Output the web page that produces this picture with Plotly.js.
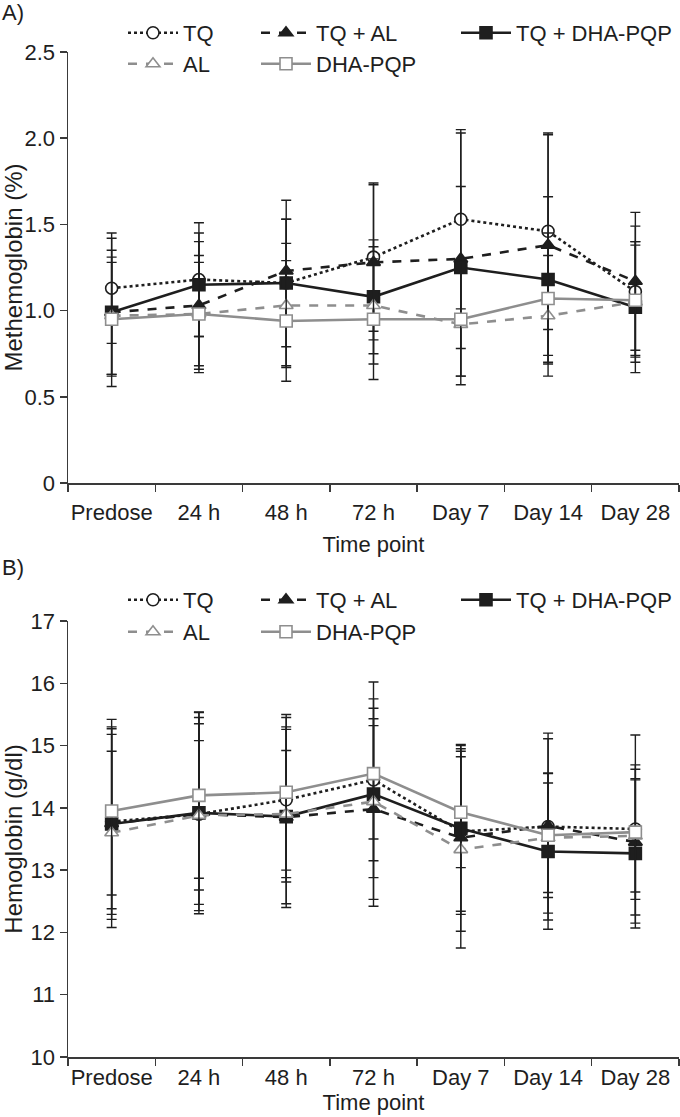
<!DOCTYPE html>
<html>
<head>
<meta charset="utf-8">
<script src="https://cdn.plot.ly/plotly-3.0.1.min.js"></script>
<style>html,body{margin:0;padding:0;background:#fff;}#chart{width:680px;height:1117px;}</style>
</head>
<body>
<div id="chart"></div>
<script>
// ---- Data ----
const categories = ['Predose', '24 h', '48 h', '72 h', 'Day 7', 'Day 14', 'Day 28'];
const seriesNames = ['TQ', 'TQ + AL', 'TQ + DHA-PQP', 'AL', 'DHA-PQP'];

// Panel A: Methemoglobin (%)
const metTQ      = [1.13, 1.18, 1.16, 1.31, 1.53, 1.46, 1.11];
const metTQAL    = [0.99, 1.03, 1.23, 1.28, 1.30, 1.38, 1.17];
const metTQDHA   = [0.99, 1.15, 1.16, 1.08, 1.25, 1.18, 1.02];
const metAL      = [0.97, 0.98, 1.03, 1.03, 0.92, 0.97, 1.05];
const metDHA     = [0.95, 0.98, 0.94, 0.95, 0.95, 1.07, 1.06];
const metTQ_sd    = [0.32, 0.33, 0.48, 0.43, 0.52, 0.57, 0.38];
const metTQAL_sd  = [0.43, 0.37, 0.30, 0.45, 0.73, 0.64, 0.40];
const metTQDHA_sd = [0.36, 0.30, 0.37, 0.33, 0.47, 0.48, 0.38];
const metAL_sd    = [0.34, 0.34, 0.36, 0.34, 0.30, 0.35, 0.35];
const metDHA_sd   = [0.33, 0.30, 0.35, 0.35, 0.33, 0.38, 0.32];
const metTickVals = [0, 0.5, 1.0, 1.5, 2.0, 2.5];
const metTickText = ['0', '0.5', '1.0', '1.5', '2.0', '2.5'];

// Panel B: Hemoglobin (g/dl)
const hbTQ      = [13.78, 13.90, 14.13, 14.45, 13.62, 13.70, 13.66];
const hbTQAL    = [13.75, 13.90, 13.85, 13.98, 13.52, 13.71, 13.45];
const hbTQDHA   = [13.74, 13.92, 13.86, 14.22, 13.67, 13.30, 13.27];
const hbAL      = [13.60, 13.88, 13.90, 14.10, 13.33, 13.52, 13.55];
const hbDHA     = [13.95, 14.20, 14.25, 14.55, 13.93, 13.56, 13.61];
const hbTQ_sd    = [1.40, 1.55, 1.32, 1.30, 1.33, 1.50, 1.51];
const hbTQAL_sd  = [1.67, 1.45, 1.45, 1.45, 1.50, 1.40, 1.17];
const hbTQDHA_sd = [1.53, 1.62, 1.40, 1.80, 1.33, 1.25, 1.20];
const hbAL_sd    = [1.31, 1.20, 1.02, 1.22, 1.58, 0.88, 0.90];
const hbDHA_sd   = [1.35, 1.33, 1.25, 1.05, 0.89, 1.00, 1.08];
const hbTickVals = [10, 11, 12, 13, 14, 15, 16, 17];

// ---- Styling ----
const FONT = 'Liberation Sans, Arial, Helvetica, sans-serif';
const BLACK = '#1e1e1e';
const GREY = '#8e8e8e';
const AX = '#3a3a3a';
const W = 680, H = 1117, ML = 68, MR = 1;
const PW = W - ML - MR;
const px2x = p => (p - ML) / PW;
const py2y = p => (H - p) / H;

const styles = [
  {dash: 'dot',   color: BLACK, symbol: 'circle',      fill: '#ffffff'},
  {dash: 'dash',  color: BLACK, symbol: 'triangle-up', fill: BLACK},
  {dash: 'solid', color: BLACK, symbol: 'square',      fill: BLACK},
  {dash: 'dash',  color: GREY,  symbol: 'triangle-up', fill: '#ffffff'},
  {dash: 'solid', color: GREY,  symbol: 'square',      fill: '#ffffff'}
];

function mk(i, y, sd, xa, ya, legendId) {
  const s = styles[i];
  return {
    type: 'scatter', mode: 'lines+markers',
    x: categories, y: y, xaxis: xa, yaxis: ya,
    name: seriesNames[i], legend: legendId,
    line: {color: s.color, width: 2.6, dash: s.dash},
    marker: {symbol: s.symbol, size: 12, color: s.fill, line: {color: s.color, width: 1.6}},
    error_y: {type: 'data', array: sd, visible: true, color: BLACK, thickness: 1.4, width: 5},
    cliponaxis: false
  };
}

// draw order: TQ, TQ+AL, TQ+DHA-PQP, AL, DHA-PQP
const traces = [
  mk(0, metTQ, metTQ_sd, 'x', 'y', 'legend'),
  mk(1, metTQAL, metTQAL_sd, 'x', 'y', 'legend2'),
  mk(2, metTQDHA, metTQDHA_sd, 'x', 'y', 'legend3'),
  mk(3, metAL, metAL_sd, 'x', 'y', 'legend4'),
  mk(4, metDHA, metDHA_sd, 'x', 'y', 'legend5'),
  mk(0, hbTQ, hbTQ_sd, 'x2', 'y2', 'legend6'),
  mk(1, hbTQAL, hbTQAL_sd, 'x2', 'y2', 'legend7'),
  mk(2, hbTQDHA, hbTQDHA_sd, 'x2', 'y2', 'legend8'),
  mk(3, hbAL, hbAL_sd, 'x2', 'y2', 'legend9'),
  mk(4, hbDHA, hbDHA_sd, 'x2', 'y2', 'legend10')
];

function leg(pxX, pxY) {
  return {
    x: px2x(pxX), y: py2y(pxY), xref: 'paper', yref: 'paper',
    xanchor: 'left', yanchor: 'middle', orientation: 'h',
    bgcolor: 'rgba(0,0,0,0)', borderwidth: 0,
    font: {family: FONT, size: 22, color: BLACK},
    itemwidth: 50, tracegroupgap: 0
  };
}

const xCommon = {
  type: 'category', range: [-0.5, 6.5], tickson: 'boundaries',
  ticks: 'outside', ticklen: 7, tickwidth: 1.5, tickcolor: AX, tickangle: 0,
  showline: true, linecolor: AX, linewidth: 1.5,
  showgrid: false, zeroline: false,
  tickfont: {family: FONT, size: 22, color: BLACK}
};
const yCommon = {
  ticks: 'outside', ticklen: 7, tickwidth: 1.5, tickcolor: AX,
  showline: true, linecolor: AX, linewidth: 1.5,
  showgrid: false, zeroline: false,
  tickfont: {family: FONT, size: 22, color: BLACK}
};

const layout = {
  width: W, height: H,
  margin: {l: ML, r: MR, t: 0, b: 0},
  paper_bgcolor: '#ffffff', plot_bgcolor: '#ffffff',
  font: {family: FONT, size: 22, color: BLACK},
  xaxis: Object.assign({}, xCommon, {
    anchor: 'y', domain: [0, 1], ticklabelstandoff: 9,
    title: {text: 'Time point', font: {family: FONT, size: 22, color: BLACK}, standoff: 12}
  }),
  xaxis2: Object.assign({}, xCommon, {
    anchor: 'y2', domain: [0, 1], ticklabelstandoff: 0,
    title: {text: 'Time point', font: {family: FONT, size: 22, color: BLACK}, standoff: 2}
  }),
  yaxis: Object.assign({}, yCommon, {
    anchor: 'x', domain: [py2y(483), py2y(52)], range: [0, 2.5],
    tickmode: 'array', tickvals: metTickVals, ticktext: metTickText,
    title: {text: 'Methemoglobin (%)', font: {family: FONT, size: 24, color: BLACK}, standoff: 8}
  }),
  yaxis2: Object.assign({}, yCommon, {
    anchor: 'x2', domain: [py2y(1057), py2y(621)], range: [10, 17],
    tickmode: 'array', tickvals: hbTickVals,
    title: {text: 'Hemoglobin (g/dl)', font: {family: FONT, size: 24, color: BLACK}, standoff: 8}
  }),
  legend: leg(123, 33),
  legend2: leg(256, 33),
  legend3: leg(456, 33),
  legend4: leg(123, 64),
  legend5: leg(256, 64),
  legend6: leg(123, 600),
  legend7: leg(256, 600),
  legend8: leg(456, 600),
  legend9: leg(123, 632),
  legend10: leg(256, 632),
  annotations: [
    {text: 'A)', xref: 'paper', yref: 'paper', x: px2x(0), y: py2y(12), xanchor: 'left', yanchor: 'middle',
     showarrow: false, font: {family: FONT, size: 22, color: BLACK}},
    {text: 'B)', xref: 'paper', yref: 'paper', x: px2x(0), y: py2y(567), xanchor: 'left', yanchor: 'middle',
     showarrow: false, font: {family: FONT, size: 22, color: BLACK}}
  ],
  showlegend: true
};

Plotly.newPlot('chart', traces, layout, {displayModeBar: false, staticPlot: true});
</script>
</body>
</html>
